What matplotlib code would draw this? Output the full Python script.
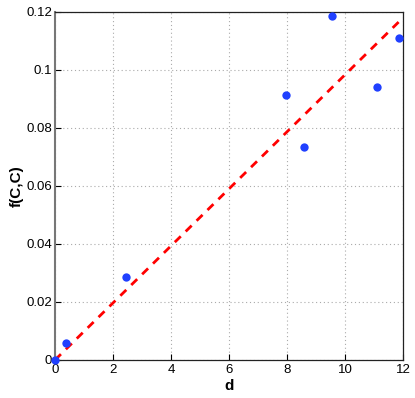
import matplotlib
matplotlib.use("Agg")
import matplotlib.pyplot as plt

plt.rcParams['font.family'] = ['Liberation Sans', 'DejaVu Sans']

# scatter data
d_vals = [0.0, 0.39, 2.45, 7.95, 8.59, 9.54, 11.08, 11.86]
f_vals = [0.0, 0.0059, 0.0287, 0.0914, 0.0733, 0.1186, 0.0941, 0.111]

# fitted line endpoints
fit_x = [0, 12]
fit_y = [0, 0.118]

x_ticks = [0, 2, 4, 6, 8, 10, 12]
y_ticks = [0, 0.02, 0.04, 0.06, 0.08, 0.1, 0.12]
y_tick_labels = ["0", "0.02", "0.04", "0.06", "0.08", "0.1", "0.12"]

fig = plt.figure(figsize=(4.15, 3.98), dpi=100)
ax = fig.add_axes([0.1325, 0.0955, 0.8395, 0.8755])

ax.plot(fit_x, fit_y, color="#ff0000", linestyle=(0, (3, 2.5)), linewidth=2, zorder=2)
ax.plot(d_vals, f_vals, "o", color="#2040ff", markersize=6, markeredgewidth=0, zorder=3, clip_on=False)

ax.set_xlim(0, 12)
ax.set_ylim(0, 0.12)
ax.set_xticks(x_ticks)
ax.set_yticks(y_ticks)
ax.set_yticklabels(y_tick_labels)
ax.tick_params(direction="in", length=4, labelsize=9.5, colors="black", pad=2)
ax.tick_params(axis="x", pad=3)
ax.grid(True, linestyle=(0, (1, 2.5)), color="#aaaaaa", linewidth=0.8)
ax.set_axisbelow(True)

for side in ["top", "right", "bottom"]:
    ax.spines[side].set_color("#222222")
    ax.spines[side].set_linewidth(0.9)
ax.spines["left"].set_color("#777777")
ax.spines["left"].set_linewidth(1.5)

ax.set_xlabel("d", fontsize=11, fontweight="bold", labelpad=2)
ax.set_ylabel("f(C,C)", fontsize=11, fontweight="bold", labelpad=2)

fig.savefig("out.png", dpi=100)
